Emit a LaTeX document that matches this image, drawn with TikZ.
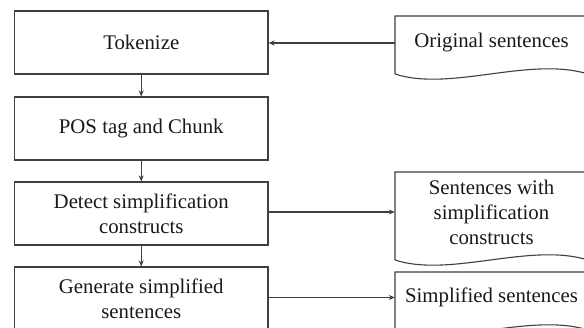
\documentclass[tikz,border=0pt]{standalone}
\usepackage{fontspec}
\setmainfont{Liberation Serif}
\usetikzlibrary{arrows.meta}
\newcommand\docoutline[4]{% left, top, bottom, right
  \draw[docline] (#1,#3) -- (#1,#2) -- (#4,#2) -- (#4,#3)
    .. controls ({#4-58},{#3-18}) and ({#1+55},{#3+18}) .. (#1,#3);}
\begin{document}
\begin{tikzpicture}[x=1pt,y=-1pt,
  every node/.style={font=\fontsize{20.8}{25}\selectfont, text=black!90},
  proc/.style={draw=black!75, line width=1.1pt, rectangle, minimum width=253.5pt,
    minimum height=63pt, inner sep=0pt, align=center},
  doctext/.style={rectangle, minimum width=193pt, inner sep=0pt, align=center},
  docline/.style={draw=black!75, line width=1.1pt},
  conn/.style={draw=black!75, line width=1.1pt, -{Stealth[length=6pt,width=5pt]}}]
\clip (0,0) rectangle (584,328);
\fill[white] (0,0) rectangle (584,328);
% process boxes
\node[proc] (tok) at (141.25,42.5) {Tokenize};
\node[proc] (pos) at (141.25,128.5) {POS tag and Chunk};
\node[proc] (det) at (141.25,213.5) {Detect simplification\\constructs};
\node[proc] (gen) at (141.25,298.5) {Generate simplified\\sentences};
% documents
\docoutline{395}{16}{74}{588}
\node[doctext] (orig) at (491.5,43) {Original sentences};
\docoutline{395}{172}{260}{588}
\node[doctext] (swc) at (491.5,212) {Sentences with\\simplification\\constructs};
\docoutline{395}{272}{330}{588}
\node[doctext] (simp) at (491.5,297.5) {Simplified sentences};
% connectors
\draw[conn] (orig.west) -- (orig.west -| tok.east);
\draw[conn] (tok.south) -- (pos.north);
\draw[conn] (pos.south) -- (det.north);
\draw[conn] (det.south) -- (gen.north);
\draw[conn] (det.east |- swc.west) -- (swc.west);
\draw[conn] (gen.east |- simp.west) -- (simp.west);
\end{tikzpicture}
\end{document}
